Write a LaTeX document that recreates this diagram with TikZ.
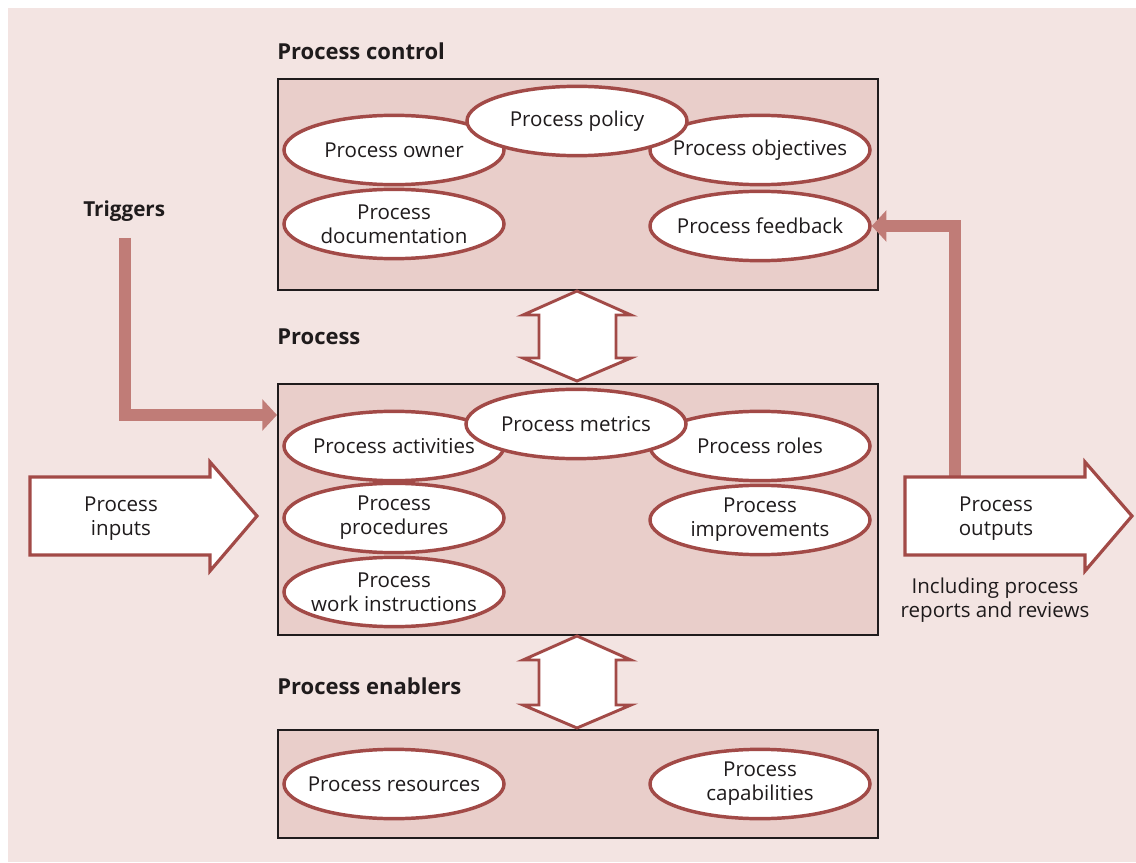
\documentclass[tikz,border=0pt]{standalone}
\usepackage{fontspec}
\setmainfont{Open Sans}
\usetikzlibrary{shapes.geometric,arrows.meta,positioning}

\definecolor{bgpink}{HTML}{F3E4E2}
\definecolor{boxfill}{HTML}{E9CECA}
\definecolor{ellred}{HTML}{A24A47}
\definecolor{flowpink}{HTML}{C07C77}
\definecolor{txtdark}{HTML}{1F1B1C}

\tikzset{
	ttl/.style={anchor=west,inner sep=0pt,text=txtdark,font=\fontsize{16.5}{19}\selectfont\bfseries},
	txtbody/.style={align=center,inner sep=0pt,text=txtdark,font=\fontsize{15.4}{18}\selectfont},
	pbox/.style={draw=txtdark,line width=1.8pt,fill=boxfill,anchor=north west,minimum width=450pt,inner sep=0pt},
	pell/.style={ellipse,draw=ellred,line width=2.6pt,fill=white,minimum width=165pt,minimum height=52pt,inner sep=0pt},
	dblarrow/.style={draw=ellred,line width=2.2pt,fill=white,line join=miter},
	blockarrow/.style={draw=ellred,line width=2.4pt,fill=white,line join=miter},
	flow/.style={draw=flowpink,line width=8.5pt,-{Triangle[length=11pt,width=23pt]}},
}

\begin{document}
\begin{tikzpicture}[x=0.75pt,y=-0.75pt]
	\useasboundingbox (0,0) rectangle (1136,863);
	\fill[bgpink] (8,8) rectangle (1136,862);

	% boxes and titles
	\node[pbox,minimum height=158pt] (ctrlbox) at (277,78) {};
	\node[pbox,minimum height=188pt] (procbox) at (277,383) {};
	\node[pbox,minimum height=81pt] (enabbox) at (277,729) {};
	\node[ttl] (ctrltitle) at (277,51) {Process control};
	\node[ttl] (proctitle) at (277,337) {Process};
	\node[ttl] (enabtitle) at (277,686) {Process enablers};

	\begin{scope} % process control
		\foreach \nm/\pos/\txt in {owner/{394,150}/{Process owner},objectives/{760,150}/{Process objectives},policy/{577,121}/{Process policy},documentation/{394,224}/{Process\\documentation},feedback/{760,226}/{Process feedback}}
			{
				\node[pell,label={[txtbody]center:\txt}] (\nm) at (\pos) {};
			}
	\end{scope}

	\begin{scope} % process
		\foreach \nm/\pos/\txt in {activities/{394,446}/{Process activities},roles/{760,446}/{Process roles},metrics/{576,424}/{Process metrics},procedures/{394,518}/{Process\\procedures},improvements/{760,520}/{Process\\improvements},instructions/{394,592}/{Process\\work instructions}}
			{
				\node[pell,label={[txtbody]center:\txt}] (\nm) at (\pos) {};
			}
	\end{scope}

	\begin{scope} % enablers
		\foreach \nm/\pos/\txt in {resources/{394,784}/{Process resources},capabilities/{760,784}/{Process\\capabilities}}
			{
				\node[pell,label={[txtbody]center:\txt}] (\nm) at (\pos) {};
			}
	\end{scope}

	% double arrows between the boxes
	\foreach \y/\h in {291/90,636/92}
		{
			\draw[dblarrow] (577,\y) -- (631,\y+24) -- (616,\y+24) -- (616,\y+\h-23) -- (631,\y+\h-23) -- (577,\y+\h) -- (523,\y+\h-23) -- (539,\y+\h-23) -- (539,\y+24) -- (523,\y+24) -- cycle;
		}

	% triggers
	\node[ttl,font=\fontsize{15.5}{18}\selectfont\bfseries] (triggers) at (83,211) {Triggers};
	\coordinate (trigstart) at (125,238);
	\coordinate (trigend) at (277,415);
	\draw[flow] (trigstart) |- (trigend);

	% feedback from the outputs
	\coordinate (fbstart) at (955,479);
	\draw[flow] (fbstart) |- (feedback.east);

	% inputs and outputs
	\foreach \x/\nm/\txt in {30/inputs/{Process\\inputs},905/outputs/{Process\\outputs}}
		{
			\draw[blockarrow] (\x,477) -- (\x+180,477) -- (\x+180,462) -- (\x+227,516) -- (\x+180,571) -- (\x+180,555) -- (\x,555) -- cycle;
			\node[txtbody] (\nm) at (\x+91,519) {\txt};
		}
	\node[txtbody] (reports) at (995,600) {Including process\\reports and reviews};
\end{tikzpicture}
\end{document}
